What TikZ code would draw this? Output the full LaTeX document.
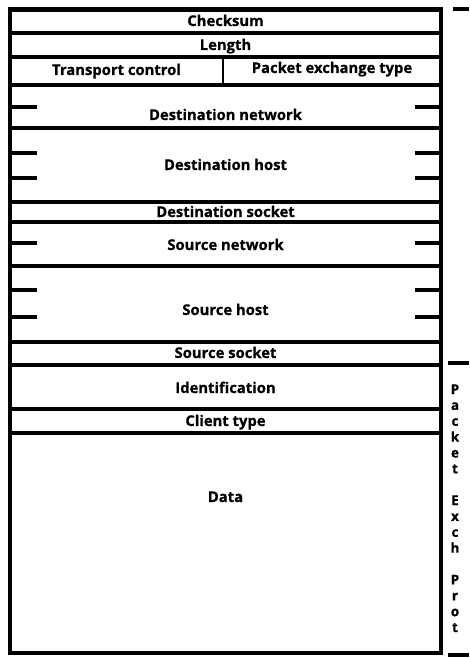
\documentclass[tikz,border=0pt]{standalone}
\usepackage{fontspec}
\setmainfont{Open Sans}[BoldFeatures={FakeBold=0.6}]
\begin{document}
\begin{tikzpicture}[x=1pt,y=-1pt,
  lbl/.style={font=\bfseries\fontsize{14.8}{17}\selectfont, inner sep=0pt, anchor=base},
  vlet/.style={font=\bfseries\fontsize{13.5}{15}\selectfont, inner sep=0pt, anchor=base},
  frame/.style={line width=4.5pt},
  rule/.style={line width=3.2pt},
  divider/.style={line width=2.4pt},
  tickmark/.style={line width=3.6pt},
  bracket/.style={line width=3.2pt}]
\useasboundingbox (0,0) rectangle (469,658);

% outer frame
\coordinate (TL) at (10,9.5);
\coordinate (BR) at (441,653);
\draw[frame] (TL) rectangle (BR);

% horizontal field boundaries
\foreach \y/\n in {33/a,57/b,85/c,128/d,202/e,222/f,266/g,342/h,365/i,409/j,433/k}{
  \coordinate (l\n) at (10,\y);
  \coordinate (r\n) at (441,\y);
  \draw[rule] (l\n) -- (r\n);
}
% divider between transport control and packet exchange type
\coordinate (dv1) at (223,57);
\coordinate (dv2) at (223,85);
\draw[divider] (dv1) -- (dv2);

% ticks marking 16-bit words
\foreach \y/\n in {107/1,153/2,178/3,243/4,290/5,317/6}{
  \coordinate (tl\n a) at (10,\y);  \coordinate (tl\n b) at (37,\y);
  \coordinate (tr\n a) at (415,\y); \coordinate (tr\n b) at (441,\y);
  \draw[tickmark] (tl\n a) -- (tl\n b);
  \draw[tickmark] (tr\n a) -- (tr\n b);
}

% right bracket marks
\coordinate (b1a) at (453,9);   \coordinate (b1b) at (469,9);
\coordinate (b2a) at (448,363); \coordinate (b2b) at (469,363);
\coordinate (b3a) at (448,655); \coordinate (b3b) at (469,655);
\draw[bracket] (b1a) -- (b1b);
\draw[bracket] (b2a) -- (b2b);
\draw[bracket] (b3a) -- (b3b);

% field labels
\node[lbl] (checksum) at (225.5,26) {Checksum};
\node[lbl] (length)   at (225.5,50) {Length};
\node[lbl] (tc)       at (116.5,75) {Transport control};
\node[lbl] (pet)      at (332,73)   {Packet exchange type};
\node[lbl] (dnet)     at (225.5,120) {Destination network};
\node[lbl] (dhost)    at (225.5,170) {Destination host};
\node[lbl] (dsock)    at (225.5,217) {Destination socket};
\node[lbl] (snet)     at (225.5,250) {Source network};
\node[lbl] (shost)    at (225.5,315) {Source host};
\node[lbl] (ssock)    at (225.5,358) {Source socket};
\node[lbl] (ident)    at (225.5,393) {Identification};
\node[lbl] (ctype)    at (225.5,426) {Client type};
\node[lbl] (data)     at (225.5,502) {Data};

% vertical caption
\foreach \i/\ch in {0/P,1/a,2/c,3/k,4/e,5/t,7/E,8/x,9/c,10/h,12/P,13/r,14/o,15/t}{
  \node[vlet] (v\i) at (455,{394+\i*15.87}) {\ch};
}
\end{tikzpicture}
\end{document}
